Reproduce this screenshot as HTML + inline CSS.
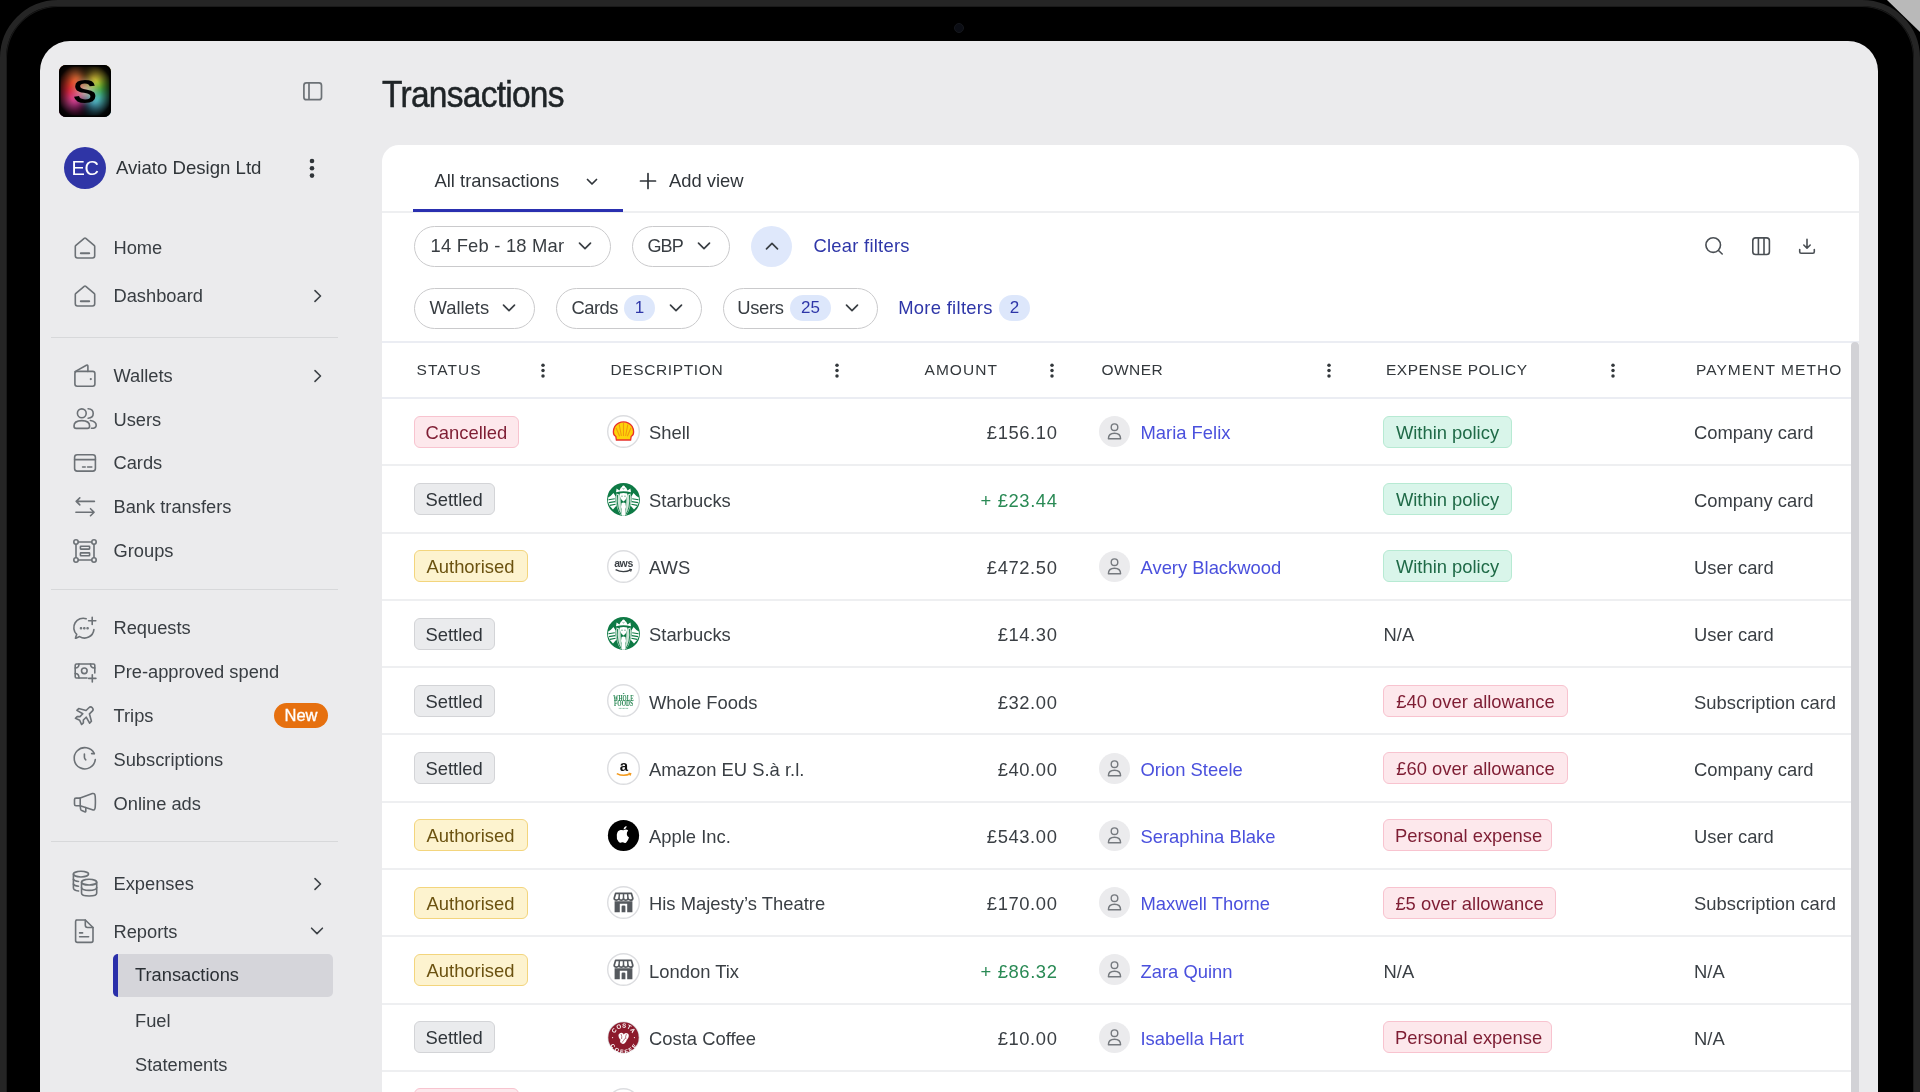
<!DOCTYPE html><html><head><meta charset="utf-8"><title>Transactions</title><style>
*{margin:0;padding:0;box-sizing:border-box}
html,body{width:1920px;height:1092px;overflow:hidden;background:#000}
body{font-family:"Liberation Sans",sans-serif;position:relative;color:#383d42}
.abs{position:absolute}
.t{position:absolute;white-space:nowrap;line-height:1}
svg{position:absolute;overflow:visible}
#rim{position:absolute;left:0;top:0;width:1920px;height:1300px;border-radius:58px;border:6px solid #252525;background:#000;box-shadow:inset 0 0 0 1px #1a1a1a}
#screen{position:absolute;left:40px;top:41px;width:1838px;height:1200px;border-radius:30px;background:#ebebed;overflow:hidden;will-change:transform}
.nav{position:absolute;left:113px;font-size:18.3px;color:#383d42;line-height:1}
.sep{position:absolute;left:51px;width:287px;height:1.5px;background:#d7d8da}
.card{position:absolute;left:382px;top:145px;width:1477px;height:1000px;background:#fff;border-radius:17px;overflow:hidden}
.pill{position:absolute;height:41px;border:1.7px solid #cacacc;border-radius:21px;background:#fff}
.cnt{position:absolute;height:26px;border-radius:13px;background:#dde7fb;color:#2e36a8;font-size:17px;text-align:center;line-height:26px}
.hd{position:absolute;font-size:15.5px;letter-spacing:1.05px;color:#33383c;line-height:1;white-space:nowrap}
.rowline{position:absolute;left:0;width:1470px;height:2px;background:#eeeff1}
.badge{position:absolute;height:32px;border-radius:6px;font-size:18.4px;line-height:30px;padding:1px 11px 0;white-space:nowrap;border:1.5px solid}
.b-red{background:#fde8ec;border-color:#f8c3cf;color:#7e1d33}
.b-gray{background:#eaebed;border-color:#d3d4d7;color:#30353a}
.b-yel{background:#fdf3cf;border-color:#f3d57d;color:#6b5210}
.b-grn{background:#d9f5ea;border-color:#b7ead3;color:#1f6a47}
.cell{position:absolute;font-size:18.4px;line-height:1;white-space:nowrap;color:#3a3f44}
.logo{position:absolute;width:32px;height:32px;border-radius:50%;border:1.5px solid #dedfe1;background:#fff;overflow:hidden}
.av{position:absolute;width:31px;height:31px;border-radius:50%;background:#ebebed}
.link{color:#4a50dd}
</style></head><body>
<div class="abs" style="left:1880px;top:0;width:40px;height:40px;background:#b9b9b9;clip-path:polygon(7px 0,40px 0,40px 32px)"></div>
<div id="rim"></div>
<div class="abs" style="left:954px;top:23px;width:10px;height:10px;border-radius:50%;background:#0b0d14;border:1px solid #15171c"></div>
<div id="screen">
<div class="abs" style="left:19px;top:24px;width:52px;height:52px;border-radius:7px;overflow:hidden;background:#000"><div class="abs" style="left:-4px;top:-4px;width:60px;height:60px;background:conic-gradient(from 0deg at 50% 50%, #000 0deg, #f5d040 40deg, #a8d030 62deg, #2f8a1a 78deg, #40b0a0 110deg, #60c8e0 135deg, #103848 170deg, #000 182deg, #7a1050 200deg, #e050a8 230deg, #c81830 270deg, #d84020 300deg, #f08040 330deg, #000 360deg);filter:blur(4px)"></div><div class="abs" style="left:0;top:0;width:52px;height:52px;background:radial-gradient(circle at 50% 50%, rgba(255,240,230,0.55) 0%, rgba(255,255,255,0.15) 28%, rgba(0,0,0,0) 42%, rgba(0,0,0,0.55) 62%, rgba(0,0,0,0.95) 78%, #000 90%)"></div><div class="t" style="left:0;top:10px;width:52px;text-align:center;font-size:33px;font-weight:700;color:#000;line-height:33px;transform:scaleX(1.08)">S</div><div class="abs" style="left:0;top:0;width:52px;height:52px;border-radius:7px;box-shadow:inset 0 0 0 1.5px #000"></div></div>
<svg style="left:263px;top:41px" width="20" height="19" viewBox="0 0 20 19"><rect x="0.9" y="0.9" width="17.6" height="16.8" rx="2.5" fill="none" stroke="#6c7176" stroke-width="1.7"/><line x1="6" y1="1" x2="6" y2="17.5" stroke="#6c7176" stroke-width="1.7"/></svg>
<div class="abs" style="left:24px;top:106px;width:42px;height:42px;border-radius:50%;background:#2f35a6;color:#fff;font-size:20px;text-align:center;line-height:42px;letter-spacing:-0.5px">EC</div>
<div class="t" style="left:76px;top:118px;font-size:18.6px;color:#2f3438">Aviato Design Ltd</div>
<svg style="left:269px;top:117px" width="6" height="21" viewBox="0 0 6 21"><circle cx="3" cy="3" r="2.3" fill="#2f3438"/><circle cx="3" cy="10.3" r="2.3" fill="#2f3438"/><circle cx="3" cy="17.6" r="2.3" fill="#2f3438"/></svg>
<svg style="left:32.8px;top:194.6px" width="24" height="24" viewBox="0 0 24 24" fill="none" stroke="#6c7176" stroke-width="1.60" stroke-linecap="round" stroke-linejoin="round"><path d="M2.3 10.6 Q2.3 9.9 2.9 9.4 L11.2 2.3 Q12 1.7 12.8 2.3 L21.1 9.4 Q21.7 9.9 21.7 10.6 V19.8 Q21.7 22 19.5 22 H4.5 Q2.3 22 2.3 19.8 Z"/><path d="M7.8 17.2 H16.2" stroke-width="2"/></svg>
<div class="nav" style="top:197.9px;left:73.5px">Home</div>
<svg style="left:32.8px;top:242.5px" width="24" height="24" viewBox="0 0 24 24" fill="none" stroke="#6c7176" stroke-width="1.60" stroke-linecap="round" stroke-linejoin="round"><path d="M2.3 10.6 Q2.3 9.9 2.9 9.4 L11.2 2.3 Q12 1.7 12.8 2.3 L21.1 9.4 Q21.7 9.9 21.7 10.6 V19.8 Q21.7 22 19.5 22 H4.5 Q2.3 22 2.3 19.8 Z"/><path d="M7.8 17.2 H16.2" stroke-width="2"/></svg>
<div class="nav" style="top:245.8px;left:73.5px">Dashboard</div>
<svg style="left:270px;top:246.5px" width="16" height="16" viewBox="0 0 16 16" fill="none" stroke="#3d4247" stroke-width="1.6" stroke-linecap="round" stroke-linejoin="round"><path d="M5 2.6 L10.5 8 L5 13.4"/></svg>
<svg style="left:33.099999999999994px;top:322.5px" width="24" height="24" viewBox="0 0 24 24" fill="none" stroke="#6c7176" stroke-width="1.60" stroke-linecap="round" stroke-linejoin="round"><path d="M1.9 9.6 Q1.9 7.4 4.1 7.4 H19.7 Q21.9 7.4 21.9 9.6 V20 Q21.9 22.2 19.7 22.2 H4.1 Q1.9 22.2 1.9 20 Z"/><path d="M2 7.6 L13.4 1.3 Q14.9 0.6 14.9 2.3 V7.4"/><circle cx="17.8" cy="15.1" r="1.1" fill="#6c7176" stroke="none"/></svg>
<div class="nav" style="top:325.8px;left:73.5px">Wallets</div>
<svg style="left:270px;top:326.5px" width="16" height="16" viewBox="0 0 16 16" fill="none" stroke="#3d4247" stroke-width="1.6" stroke-linecap="round" stroke-linejoin="round"><path d="M5 2.6 L10.5 8 L5 13.4"/></svg>
<svg style="left:32.7px;top:366.3px" width="24" height="24" viewBox="0 0 24 24" fill="none" stroke="#6c7176" stroke-width="1.60" stroke-linecap="round" stroke-linejoin="round"><circle cx="8.8" cy="6.3" r="4.4"/><path d="M1 19 Q1 13.6 8.8 13.6 Q16.6 13.6 16.6 19 Q16.6 21.4 14.4 21.4 H3.2 Q1 21.4 1 19 Z"/><path d="M15.1 1.8 Q20.2 2 20.2 6.5 Q20.2 11 15.1 11.2"/><path d="M17.4 13.5 Q23.2 14.6 23.2 18.2 Q23.2 21.3 18.4 21.3"/></svg>
<div class="nav" style="top:369.6px;left:73.5px">Users</div>
<svg style="left:32.5px;top:410.1px" width="24" height="24" viewBox="0 0 24 24" fill="none" stroke="#6c7176" stroke-width="1.60" stroke-linecap="round" stroke-linejoin="round"><rect x="1.6" y="3.7" width="20.8" height="16.4" rx="2.6"/><path d="M1.6 8.6 H22.4"/><path d="M9.6 16 H12.2 M14.6 16 H18.8"/></svg>
<div class="nav" style="top:413.4px;left:73.5px">Cards</div>
<svg style="left:32.599999999999994px;top:454.1px" width="24" height="24" viewBox="0 0 24 24" fill="none" stroke="#6c7176" stroke-width="1.60" stroke-linecap="round" stroke-linejoin="round"><path d="M21.4 6.4 H3.2 M6.8 2.9 L3.2 6.4 L6.8 9.9"/><path d="M2.9 17.2 H21.1 M17.5 13.7 L21.1 17.2 L17.5 20.7"/></svg>
<div class="nav" style="top:457.4px;left:73.5px">Bank transfers</div>
<svg style="left:32.7px;top:498.1px" width="24" height="24" viewBox="0 0 24 24" fill="none" stroke="#6c7176" stroke-width="1.60" stroke-linecap="round" stroke-linejoin="round"><rect x="3" y="3" width="18" height="18" rx="0.5"/><circle cx="3" cy="3" r="2.2" fill="#ebebed"/><circle cx="21" cy="3" r="2.2" fill="#ebebed"/><circle cx="3" cy="21" r="2.2" fill="#ebebed"/><circle cx="21" cy="21" r="2.2" fill="#ebebed"/><rect x="7.4" y="7.3" width="9.2" height="2.8" rx="0.5"/><rect x="7.4" y="13.9" width="9.2" height="2.8" rx="0.5"/></svg>
<div class="nav" style="top:501.4px;left:73.5px">Groups</div>
<svg style="left:32.900000000000006px;top:574.6px" width="24" height="24" viewBox="0 0 24 24" fill="none" stroke="#6c7176" stroke-width="1.60" stroke-linecap="round" stroke-linejoin="round"><path d="M20.9 13.6 A9.4 9.4 0 0 1 6.6 20.6 L2.9 22.2 Q2.2 22.4 2.5 21.7 L3.7 18.4 A9.4 9.4 0 0 1 13.2 2.7"/><path d="M19.2 1.2 V8.4 M15.6 4.8 H22.8"/><circle cx="8" cy="12.3" r="0.5" fill="#6c7176"/><circle cx="11.3" cy="12.3" r="0.5" fill="#6c7176"/><circle cx="14.6" cy="12.3" r="0.5" fill="#6c7176"/></svg>
<div class="nav" style="top:577.9px;left:73.5px">Requests</div>
<svg style="left:32.900000000000006px;top:618.4px" width="24" height="24" viewBox="0 0 24 24" fill="none" stroke="#6c7176" stroke-width="1.60" stroke-linecap="round" stroke-linejoin="round"><path d="M14 19 H3.5 Q2.2 19 2.2 17.7 V6.3 Q2.2 5 3.5 5 H20.5 Q21.8 5 21.8 6.3 V14"/><circle cx="11.3" cy="11.8" r="2.8"/><path d="M2.2 9 Q6 9 6 5 M17.5 5 Q17.5 9 21.8 9 M2.2 14.5 Q6 14.5 6 19"/><path d="M19.3 15.8 V23 M15.7 19.4 H22.9"/></svg>
<div class="nav" style="top:621.7px;left:73.5px">Pre-approved spend</div>
<svg style="left:32.900000000000006px;top:662.3px" width="24" height="24" viewBox="0 0 24 24" fill="none" stroke="#6c7176" stroke-width="1.60" stroke-linecap="round" stroke-linejoin="round"><path transform="rotate(-45 12 12) translate(0.3 0)" d="M15.6 9.6 H19.6 A2.4 2.4 0 0 1 19.6 14.4 H15.6 L11.8 21 H9.2 L11 14.4 H7 L5 16.4 H2.6 L4.2 12 L2.6 7.6 H5 L7 9.6 H11 L9.2 3 H11.8 Z"/></svg>
<div class="nav" style="top:665.6px;left:73.5px">Trips</div>
<svg style="left:32.900000000000006px;top:706.3px" width="24" height="24" viewBox="0 0 24 24" fill="none" stroke="#6c7176" stroke-width="1.60" stroke-linecap="round" stroke-linejoin="round"><path d="M21.3 6.6 A10.6 10.6 0 1 0 22.3 12.6"/><path d="M21.3 6.6 H18.6"/><path d="M11.4 7 V10.2 Q11.4 11.8 12.8 12.8"/></svg>
<div class="nav" style="top:709.6px;left:73.5px">Subscriptions</div>
<svg style="left:32.900000000000006px;top:750.3px" width="24" height="24" viewBox="0 0 24 24" fill="none" stroke="#6c7176" stroke-width="1.60" stroke-linecap="round" stroke-linejoin="round"><path d="M3 7.1 H7.2 V14.7 H3 Q1.5 14.7 1.5 13.2 V8.6 Q1.5 7.1 3 7.1 Z"/><path d="M7.2 7.1 L19.4 2.6 Q21.9 1.8 22.2 5.2 Q22.6 10.7 22.2 16.2 Q21.9 19.6 19.4 18.8 L7.2 14.7"/><path d="M7.2 14.7 L7.6 18.2 Q7.8 19.2 8.8 19.6 L11.6 20.8 Q12.8 21.2 12.8 19.9 V16.6"/></svg>
<div class="nav" style="top:753.6px;left:73.5px">Online ads</div>
<svg style="left:32.0px;top:828.7px" width="26" height="26" viewBox="0 0 24 24" fill="none" stroke="#6c7176" stroke-width="1.48" stroke-linecap="round" stroke-linejoin="round"><ellipse cx="8.3" cy="3.8" rx="7" ry="2.6"/><path d="M1.3 3.8 V16.5 Q1.3 18.5 6 19.4"/><path d="M1.3 8.6 Q2 10 6 10.6 M1.3 13 Q2 14.5 6 15"/><ellipse cx="15.8" cy="11.2" rx="7" ry="2.6"/><path d="M8.8 11.2 V21.5 Q8.8 24 15.8 24 Q22.8 24 22.8 21.5 V11.2"/><path d="M8.8 16.2 Q9.2 18.8 15.8 18.8 Q22.4 18.8 22.8 16.2"/></svg>
<div class="nav" style="top:833.9px;left:73.5px">Expenses</div>
<svg style="left:270px;top:834.6px" width="16" height="16" viewBox="0 0 16 16" fill="none" stroke="#3d4247" stroke-width="1.6" stroke-linecap="round" stroke-linejoin="round"><path d="M5 2.6 L10.5 8 L5 13.4"/></svg>
<svg style="left:32.400000000000006px;top:878.2px" width="24" height="24" viewBox="0 0 24 24" fill="none" stroke="#6c7176" stroke-width="1.60" stroke-linecap="round" stroke-linejoin="round"><path d="M4.2 1 H13.3 L21 8.5 V21.5 Q21 23.4 19.2 23.4 H5.5 Q3.6 23.4 3.6 21.5 V2.6 Q3.6 1 5.2 1 Z"/><path d="M13.3 1 V6.3 Q13.3 8.5 15.5 8.5 H21"/><path d="M7.6 13.9 H10.6 M7.6 17.8 H16.6"/></svg>
<div class="nav" style="top:881.5px;left:73.5px">Reports</div>
<svg style="left:269px;top:882.2px" width="16" height="16" viewBox="0 0 16 16" fill="none" stroke="#3d4247" stroke-width="1.6" stroke-linecap="round" stroke-linejoin="round"><path d="M2.6 5.2 L8 10.6 L13.4 5.2"/></svg>
<div class="sep" style="top:295.6px;left:11px"></div>
<div class="sep" style="top:547.8px;left:11px"></div>
<div class="sep" style="top:799.5px;left:11px"></div>
<div class="abs" style="left:234px;top:662px;width:54px;height:25px;border-radius:13px;background:#e6700f;color:#fff;font-size:16.5px;line-height:25px;text-align:center;-webkit-text-stroke:0.35px #fff">New</div>
<div class="abs" style="left:73px;top:912.5px;width:220px;height:43.5px;border-radius:5px;background:#d5d5da;overflow:hidden"><div class="abs" style="left:0;top:0;width:5px;height:44px;background:#2a2faa"></div></div>
<div class="nav" style="top:925.3px;left:95px;color:#2b3035">Transactions</div>
<div class="nav" style="top:970.6px;left:95px;color:#383d42">Fuel</div>
<div class="nav" style="top:1015.0px;left:95px;color:#383d42">Statements</div>
<div class="t" style="left:342px;top:34.7px;font-size:37px;font-weight:400;color:#1f2427;letter-spacing:-0.8px;-webkit-text-stroke:0.55px #1f2427;transform:scaleX(0.905);transform-origin:0 0">Transactions</div>
<div class="card" style="left:342px;top:104px">
<div class="t" style="left:52.5px;top:27px;font-size:18.4px;color:#30353a">All transactions</div>
<svg style="left:204px;top:32px" width="12" height="10" viewBox="0 0 12 10" fill="none" stroke="#30353a" stroke-width="1.7" stroke-linecap="round" stroke-linejoin="round"><path d="M1.5 2.5 L6 7 L10.5 2.5"/></svg>
<svg style="left:257px;top:27px" width="18" height="18" viewBox="0 0 18 18" fill="none" stroke="#30353a" stroke-width="1.7" stroke-linecap="round"><path d="M9 1.5 V16.5 M1.5 9 H16.5"/></svg>
<div class="t" style="left:287px;top:27px;font-size:18.4px;color:#30353a">Add view</div>
<div class="abs" style="left:0;top:66px;width:1477px;height:2px;background:#eeeff1"></div>
<div class="abs" style="left:31px;top:64px;width:210px;height:3px;background:#2a30b0"></div>
<div class="pill" style="left:31.5px;top:80.5px;width:197.0px;height:41.0px"></div>
<div class="t" style="left:48.5px;top:91.80000000000001px;font-size:18.4px;color:#383d42;letter-spacing:0.2px">14 Feb - 18 Mar</div>
<svg style="left:196px;top:96px" width="14" height="10" viewBox="0 0 14 10" fill="none" stroke="#3a3f44" stroke-width="1.7" stroke-linecap="round" stroke-linejoin="round"><path d="M1.5 2.2 L7 7.6 L12.5 2.2"/></svg>
<div class="pill" style="left:250px;top:80.5px;width:98px;height:41.0px"></div>
<div class="t" style="left:265.5px;top:91.80000000000001px;font-size:18px;color:#383d42;letter-spacing:-0.9px">GBP</div>
<svg style="left:315px;top:96px" width="14" height="10" viewBox="0 0 14 10" fill="none" stroke="#3a3f44" stroke-width="1.7" stroke-linecap="round" stroke-linejoin="round"><path d="M1.5 2.2 L7 7.6 L12.5 2.2"/></svg>
<div class="abs" style="left:369px;top:80.5px;width:41px;height:41px;border-radius:50%;background:#dfe8fb"></div>
<svg style="left:382.5px;top:96px" width="14" height="10" viewBox="0 0 14 10" fill="none" stroke="#3a3f44" stroke-width="1.7" stroke-linecap="round" stroke-linejoin="round"><path d="M1.5 7.8 L7 2.4 L12.5 7.8"/></svg>
<div class="t" style="left:431.5px;top:91.80000000000001px;font-size:18.4px;color:#2e36a8;letter-spacing:0.25px">Clear filters</div>
<svg style="left:1320px;top:89px" width="24" height="24" viewBox="0 0 24 24" fill="none" stroke="#4a4f54" stroke-width="1.6" stroke-linecap="round"><circle cx="11.2" cy="11.1" r="7.3"/><path d="M16.5 16.5 L20.2 20"/></svg>
<svg style="left:1367px;top:89px" width="24" height="24" viewBox="0 0 24 24" fill="none" stroke="#4a4f54" stroke-width="1.6"><rect x="3.8" y="3.9" width="16.6" height="16.6" rx="2.8"/><path d="M9.4 3.9 V20.5 M15 3.9 V20.5"/></svg>
<svg style="left:1413px;top:89px" width="24" height="24" viewBox="0 0 24 24" fill="none" stroke="#4a4f54" stroke-width="1.6" stroke-linecap="round" stroke-linejoin="round"><path d="M12 5.2 V14 M8.8 11 L12 14.2 L15.2 11"/><path d="M4.7 15.6 V17.8 Q4.7 19.2 6.1 19.2 H17.9 Q19.3 19.2 19.3 17.8 V15.6"/></svg>
<div class="pill" style="left:31.5px;top:142.5px;width:121.5px;height:41.0px"></div>
<div class="t" style="left:47.5px;top:153.8px;font-size:18.4px;color:#383d42;letter-spacing:0px">Wallets</div>
<svg style="left:120px;top:158px" width="14" height="10" viewBox="0 0 14 10" fill="none" stroke="#3a3f44" stroke-width="1.7" stroke-linecap="round" stroke-linejoin="round"><path d="M1.5 2.2 L7 7.6 L12.5 2.2"/></svg>
<div class="pill" style="left:173.5px;top:142.5px;width:146.0px;height:41.0px"></div>
<div class="t" style="left:189.5px;top:153.8px;font-size:18.4px;color:#383d42;letter-spacing:-0.55px">Cards</div>
<svg style="left:287px;top:158px" width="14" height="10" viewBox="0 0 14 10" fill="none" stroke="#3a3f44" stroke-width="1.7" stroke-linecap="round" stroke-linejoin="round"><path d="M1.5 2.2 L7 7.6 L12.5 2.2"/></svg>
<div class="cnt" style="left:242px;top:150px;width:31px">1</div>
<div class="pill" style="left:340.5px;top:142.5px;width:155.0px;height:41.0px"></div>
<div class="t" style="left:355.20000000000005px;top:153.8px;font-size:18.4px;color:#383d42;letter-spacing:-0.3px">Users</div>
<svg style="left:463px;top:158px" width="14" height="10" viewBox="0 0 14 10" fill="none" stroke="#3a3f44" stroke-width="1.7" stroke-linecap="round" stroke-linejoin="round"><path d="M1.5 2.2 L7 7.6 L12.5 2.2"/></svg>
<div class="cnt" style="left:408px;top:150px;width:41px">25</div>
<div class="t" style="left:516.2px;top:153.8px;font-size:18.4px;color:#2e36a8;letter-spacing:0.3px">More filters</div>
<div class="cnt" style="left:617px;top:150px;width:31px">2</div>
<div class="abs" style="left:0;top:196px;width:1477px;height:2px;background:#ebedf3"></div>
<div class="abs" style="left:0;top:252px;width:1470px;height:2px;background:#ebedf3"></div>
<div class="hd" style="left:34.5px;top:217.2px;letter-spacing:1.05px">STATUS</div>
<svg style="left:157.5px;top:217.5px" width="6" height="16" viewBox="0 0 6 16"><circle cx="3" cy="2.2" r="1.75" fill="#33383c"/><circle cx="3" cy="7.6" r="1.75" fill="#33383c"/><circle cx="3" cy="13" r="1.75" fill="#33383c"/></svg>
<div class="hd" style="left:228.5px;top:217.2px;letter-spacing:0.62px">DESCRIPTION</div>
<svg style="left:452px;top:217.5px" width="6" height="16" viewBox="0 0 6 16"><circle cx="3" cy="2.2" r="1.75" fill="#33383c"/><circle cx="3" cy="7.6" r="1.75" fill="#33383c"/><circle cx="3" cy="13" r="1.75" fill="#33383c"/></svg>
<div class="hd" style="left:542.5px;top:217.2px;letter-spacing:1.05px">AMOUNT</div>
<svg style="left:666.7px;top:217.5px" width="6" height="16" viewBox="0 0 6 16"><circle cx="3" cy="2.2" r="1.75" fill="#33383c"/><circle cx="3" cy="7.6" r="1.75" fill="#33383c"/><circle cx="3" cy="13" r="1.75" fill="#33383c"/></svg>
<div class="hd" style="left:719.5px;top:217.2px;letter-spacing:0.45px">OWNER</div>
<svg style="left:943.7px;top:217.5px" width="6" height="16" viewBox="0 0 6 16"><circle cx="3" cy="2.2" r="1.75" fill="#33383c"/><circle cx="3" cy="7.6" r="1.75" fill="#33383c"/><circle cx="3" cy="13" r="1.75" fill="#33383c"/></svg>
<div class="hd" style="left:1004px;top:217.2px;letter-spacing:0.52px">EXPENSE POLICY</div>
<svg style="left:1228px;top:217.5px" width="6" height="16" viewBox="0 0 6 16"><circle cx="3" cy="2.2" r="1.75" fill="#33383c"/><circle cx="3" cy="7.6" r="1.75" fill="#33383c"/><circle cx="3" cy="13" r="1.75" fill="#33383c"/></svg>
<div class="abs" style="left:1314px;top:210px;width:146px;height:30px;overflow:hidden"><div class="hd" style="left:0;top:7.2px">PAYMENT METHOD</div></div>
<div class="rowline" style="top:319px"></div>
<div class="badge b-red" style="left:31.5px;top:270.7px;width:105px;text-align:center">Cancelled</div>
<svg style="left:224.5px;top:270.2px" width="33" height="33" viewBox="0 0 33 33"><circle cx="16.5" cy="16.5" r="15.8" fill="#fff" stroke="#dcdde0" stroke-width="1.4"/><path d="M8.8 21.5 Q6.2 20.2 6.4 16.6 Q6.8 10.4 11.6 8.1 Q16.5 5.8 21.4 8.1 Q26.2 10.4 26.6 16.6 Q26.8 20.2 24.2 21.5 L23.6 25 H9.4 Z" fill="#fdd20a" stroke="#e8312a" stroke-width="1.3"/><path d="M16.5 8 V21 M12.2 9.5 L14.4 21 M20.8 9.5 L18.6 21 M9 12.8 L12.6 21.2 M24 12.8 L20.4 21.2" stroke="#f29a0d" stroke-width="1.1" fill="none"/></svg>
<div class="cell" style="left:267px;top:279.4px">Shell</div>
<div class="cell" style="left:318px;width:357.5px;text-align:right;top:279.4px;color:#3a3f44;letter-spacing:0.6px">£156.10</div>
<svg style="left:716.5px;top:271.2px" width="31" height="31" viewBox="0 0 31 31"><circle cx="15.5" cy="15.5" r="15.5" fill="#ebebed"/><circle cx="15.5" cy="11.2" r="3.3" fill="none" stroke="#75797e" stroke-width="1.4"/><path d="M9.4 22.8 Q9.4 17.2 15.5 17.2 Q21.6 17.2 21.6 22.8 Z" fill="none" stroke="#75797e" stroke-width="1.4" stroke-linejoin="round"/></svg>
<div class="cell link" style="left:758.5px;top:279.4px">Maria Felix</div>
<div class="badge b-grn" style="left:1001px;top:270.7px;width:129px;text-align:center">Within policy</div>
<div class="cell" style="left:1312px;top:279.4px">Company card</div>
<div class="rowline" style="top:387px"></div>
<div class="badge b-gray" style="left:31.5px;top:338.0px;width:81px;text-align:center">Settled</div>
<svg style="left:224.5px;top:337.5px" width="33" height="33" viewBox="0 0 33 33"><circle cx="16.5" cy="16.5" r="16.4" fill="#0e7a45"/><path d="M1.2 14.5 Q4 13 6.5 10 L8.6 13.5 Q7.8 18 9.5 22.5 L6 26.5 Q2.5 24 1 19 Z" fill="#fff"/><path d="M31.8 14.5 Q29 13 26.5 10 L24.4 13.5 Q25.2 18 23.5 22.5 L27 26.5 Q30.5 24 32 19 Z" fill="#fff"/><path d="M1.5 16.8 L7.8 15.8 M1.8 19.6 L8.2 18.6 M2.8 22.4 L8.6 21.2 M31.5 16.8 L25.2 15.8 M31.2 19.6 L24.8 18.6 M30.2 22.4 L24.4 21.2" stroke="#0e7a45" stroke-width="1.1"/><path d="M9.5 10.5 Q8 17 9.6 23 Q11 28.5 13.6 31.8 L15 31.8 Q13.5 27 13.8 21 Q14 16 12.6 11.5 Z" fill="#cfe6d8"/><path d="M23.5 10.5 Q25 17 23.4 23 Q22 28.5 19.4 31.8 L18 31.8 Q19.5 27 19.2 21 Q19 16 20.4 11.5 Z" fill="#cfe6d8"/><path d="M10.6 12 Q9.6 18 11 24 Q12 28 13.8 31 M22.4 12 Q23.4 18 22 24 Q21 28 19.2 31" stroke="#0e7a45" stroke-width="0.9" fill="none"/><path d="M9 9.2 L9.6 5.4 L12.4 7.4 L14.2 4 L16.5 6.4 L18.8 4 L20.6 7.4 L23.4 5.4 L24 9.2 Q16.5 7.4 9 9.2 Z" fill="#fff"/><circle cx="16.5" cy="4.2" r="1.6" fill="#fff"/><path d="M12.8 10.6 Q16.5 9.6 20.2 10.6 Q20.6 16 16.5 18.6 Q12.4 16 12.8 10.6 Z" fill="#fff"/><path d="M14.4 13.2 H15.6 M17.4 13.2 H18.6" stroke="#0e7a45" stroke-width="0.8"/><path d="M14.6 20 Q16.5 19 18.4 20 L19 24 Q18.2 26 18.6 28 L18 32.8 H15 L14.4 28 Q14.8 26 14 24 Z" fill="#fff"/></svg>
<div class="cell" style="left:267px;top:346.7px">Starbucks</div>
<div class="cell" style="left:318px;width:357.5px;text-align:right;top:346.7px;color:#2a8a55;letter-spacing:0.6px">+ £23.44</div>
<div class="badge b-grn" style="left:1001px;top:338.0px;width:129px;text-align:center">Within policy</div>
<div class="cell" style="left:1312px;top:346.7px">Company card</div>
<div class="rowline" style="top:454px"></div>
<div class="badge b-yel" style="left:31.5px;top:405.3px;width:114px;text-align:center">Authorised</div>
<svg style="left:224.5px;top:404.8px" width="33" height="33" viewBox="0 0 33 33"><circle cx="16.5" cy="16.5" r="15.8" fill="#fff" stroke="#dcdde0" stroke-width="1.4"/><text x="16.5" y="17.3" text-anchor="middle" font-family="Liberation Sans" font-size="10.5" font-weight="700" fill="#3a3f44" letter-spacing="-0.4">aws</text><path d="M8.6 19.6 Q16 23.5 23.8 19.8" stroke="#3a3f44" stroke-width="1.3" fill="none"/><path d="M22.2 19 L24.4 19.6 L23.6 21.6" stroke="#3a3f44" stroke-width="1.1" fill="none"/></svg>
<div class="cell" style="left:267px;top:414.0px">AWS</div>
<div class="cell" style="left:318px;width:357.5px;text-align:right;top:414.0px;color:#3a3f44;letter-spacing:0.6px">£472.50</div>
<svg style="left:716.5px;top:405.8px" width="31" height="31" viewBox="0 0 31 31"><circle cx="15.5" cy="15.5" r="15.5" fill="#ebebed"/><circle cx="15.5" cy="11.2" r="3.3" fill="none" stroke="#75797e" stroke-width="1.4"/><path d="M9.4 22.8 Q9.4 17.2 15.5 17.2 Q21.6 17.2 21.6 22.8 Z" fill="none" stroke="#75797e" stroke-width="1.4" stroke-linejoin="round"/></svg>
<div class="cell link" style="left:758.5px;top:414.0px">Avery Blackwood</div>
<div class="badge b-grn" style="left:1001px;top:405.3px;width:129px;text-align:center">Within policy</div>
<div class="cell" style="left:1312px;top:414.0px">User card</div>
<div class="rowline" style="top:521px"></div>
<div class="badge b-gray" style="left:31.5px;top:472.5px;width:81px;text-align:center">Settled</div>
<svg style="left:224.5px;top:472.0px" width="33" height="33" viewBox="0 0 33 33"><circle cx="16.5" cy="16.5" r="16.4" fill="#0e7a45"/><path d="M1.2 14.5 Q4 13 6.5 10 L8.6 13.5 Q7.8 18 9.5 22.5 L6 26.5 Q2.5 24 1 19 Z" fill="#fff"/><path d="M31.8 14.5 Q29 13 26.5 10 L24.4 13.5 Q25.2 18 23.5 22.5 L27 26.5 Q30.5 24 32 19 Z" fill="#fff"/><path d="M1.5 16.8 L7.8 15.8 M1.8 19.6 L8.2 18.6 M2.8 22.4 L8.6 21.2 M31.5 16.8 L25.2 15.8 M31.2 19.6 L24.8 18.6 M30.2 22.4 L24.4 21.2" stroke="#0e7a45" stroke-width="1.1"/><path d="M9.5 10.5 Q8 17 9.6 23 Q11 28.5 13.6 31.8 L15 31.8 Q13.5 27 13.8 21 Q14 16 12.6 11.5 Z" fill="#cfe6d8"/><path d="M23.5 10.5 Q25 17 23.4 23 Q22 28.5 19.4 31.8 L18 31.8 Q19.5 27 19.2 21 Q19 16 20.4 11.5 Z" fill="#cfe6d8"/><path d="M10.6 12 Q9.6 18 11 24 Q12 28 13.8 31 M22.4 12 Q23.4 18 22 24 Q21 28 19.2 31" stroke="#0e7a45" stroke-width="0.9" fill="none"/><path d="M9 9.2 L9.6 5.4 L12.4 7.4 L14.2 4 L16.5 6.4 L18.8 4 L20.6 7.4 L23.4 5.4 L24 9.2 Q16.5 7.4 9 9.2 Z" fill="#fff"/><circle cx="16.5" cy="4.2" r="1.6" fill="#fff"/><path d="M12.8 10.6 Q16.5 9.6 20.2 10.6 Q20.6 16 16.5 18.6 Q12.4 16 12.8 10.6 Z" fill="#fff"/><path d="M14.4 13.2 H15.6 M17.4 13.2 H18.6" stroke="#0e7a45" stroke-width="0.8"/><path d="M14.6 20 Q16.5 19 18.4 20 L19 24 Q18.2 26 18.6 28 L18 32.8 H15 L14.4 28 Q14.8 26 14 24 Z" fill="#fff"/></svg>
<div class="cell" style="left:267px;top:481.2px">Starbucks</div>
<div class="cell" style="left:318px;width:357.5px;text-align:right;top:481.2px;color:#3a3f44;letter-spacing:0.6px">£14.30</div>
<div class="cell" style="left:1001.5px;top:481.2px">N/A</div>
<div class="cell" style="left:1312px;top:481.2px">User card</div>
<div class="rowline" style="top:588px"></div>
<div class="badge b-gray" style="left:31.5px;top:539.8px;width:81px;text-align:center">Settled</div>
<svg style="left:224.5px;top:539.3px" width="33" height="33" viewBox="0 0 33 33"><circle cx="16.5" cy="16.5" r="15.8" fill="#fff" stroke="#dcdde0" stroke-width="1.4"/><path d="M15.6 9.4 Q16.8 8.6 17.6 10 Q16.4 10.2 15.6 9.4 Z" fill="#2a8a5a"/><text x="16.5" y="16.6" text-anchor="middle" font-family="Liberation Serif" font-size="7.6" font-weight="700" fill="#23844f" textLength="20.5" lengthAdjust="spacingAndGlyphs">WHOLE</text><text x="16.5" y="22.4" text-anchor="middle" font-family="Liberation Serif" font-size="7.6" font-weight="700" fill="#23844f" textLength="19" lengthAdjust="spacingAndGlyphs">FOODS</text><path d="M11.8 24.4 H21.2" stroke="#3f9a6a" stroke-width="0.7" stroke-dasharray="0.9 0.5"/></svg>
<div class="cell" style="left:267px;top:548.5px">Whole Foods</div>
<div class="cell" style="left:318px;width:357.5px;text-align:right;top:548.5px;color:#3a3f44;letter-spacing:0.6px">£32.00</div>
<div class="badge b-red" style="left:1001px;top:539.8px;width:185px;text-align:center">£40 over allowance</div>
<div class="cell" style="left:1312px;top:548.5px">Subscription card</div>
<div class="rowline" style="top:656px"></div>
<div class="badge b-gray" style="left:31.5px;top:607.1px;width:81px;text-align:center">Settled</div>
<svg style="left:224.5px;top:606.6px" width="33" height="33" viewBox="0 0 33 33"><circle cx="16.5" cy="16.5" r="15.8" fill="#fff" stroke="#dcdde0" stroke-width="1.4"/><text x="16.8" y="19.2" text-anchor="middle" font-family="Liberation Sans" font-size="15" font-weight="700" fill="#111">a</text><path d="M9.8 21.6 Q16.5 25 23.4 21.8" stroke="#f39a1d" stroke-width="1.5" fill="none"/><path d="M21.6 21 L23.8 21.6 L23.1 23.6" stroke="#f39a1d" stroke-width="1.2" fill="none"/></svg>
<div class="cell" style="left:267px;top:615.8px">Amazon EU S.à r.l.</div>
<div class="cell" style="left:318px;width:357.5px;text-align:right;top:615.8px;color:#3a3f44;letter-spacing:0.6px">£40.00</div>
<svg style="left:716.5px;top:607.6px" width="31" height="31" viewBox="0 0 31 31"><circle cx="15.5" cy="15.5" r="15.5" fill="#ebebed"/><circle cx="15.5" cy="11.2" r="3.3" fill="none" stroke="#75797e" stroke-width="1.4"/><path d="M9.4 22.8 Q9.4 17.2 15.5 17.2 Q21.6 17.2 21.6 22.8 Z" fill="none" stroke="#75797e" stroke-width="1.4" stroke-linejoin="round"/></svg>
<div class="cell link" style="left:758.5px;top:615.8px">Orion Steele</div>
<div class="badge b-red" style="left:1001px;top:607.1px;width:185px;text-align:center">£60 over allowance</div>
<div class="cell" style="left:1312px;top:615.8px">Company card</div>
<div class="rowline" style="top:723px"></div>
<div class="badge b-yel" style="left:31.5px;top:674.4px;width:114px;text-align:center">Authorised</div>
<svg style="left:224.5px;top:673.9px" width="33" height="33" viewBox="0 0 33 33"><circle cx="16.5" cy="16.5" r="15.6" fill="#000"/><path d="M16.6 11.3 Q19 9.8 21.2 11.4 Q19.6 12.8 19.8 15.2 Q20 17.6 22 18.6 Q21 22 19.2 23.4 Q18 24.3 16.6 23.6 Q15.5 23.1 14.2 23.6 Q12.8 24.2 11.6 22.8 Q9.2 19.8 9.8 15.8 Q10.4 11.4 13.6 11.1 Q15 11 16.6 11.3 Z" fill="#fff"/><path d="M16.6 10.4 Q16.6 7.6 19.6 7 Q19.6 9.9 16.6 10.4 Z" fill="#fff"/></svg>
<div class="cell" style="left:267px;top:683.1px">Apple Inc.</div>
<div class="cell" style="left:318px;width:357.5px;text-align:right;top:683.1px;color:#3a3f44;letter-spacing:0.6px">£543.00</div>
<svg style="left:716.5px;top:674.9px" width="31" height="31" viewBox="0 0 31 31"><circle cx="15.5" cy="15.5" r="15.5" fill="#ebebed"/><circle cx="15.5" cy="11.2" r="3.3" fill="none" stroke="#75797e" stroke-width="1.4"/><path d="M9.4 22.8 Q9.4 17.2 15.5 17.2 Q21.6 17.2 21.6 22.8 Z" fill="none" stroke="#75797e" stroke-width="1.4" stroke-linejoin="round"/></svg>
<div class="cell link" style="left:758.5px;top:683.1px">Seraphina Blake</div>
<div class="badge b-red" style="left:1001px;top:674.4px;width:169px;text-align:center">Personal expense</div>
<div class="cell" style="left:1312px;top:683.1px">User card</div>
<div class="rowline" style="top:790px"></div>
<div class="badge b-yel" style="left:31.5px;top:741.6px;width:114px;text-align:center">Authorised</div>
<svg style="left:224.5px;top:741.1px" width="33" height="33" viewBox="0 0 33 33"><circle cx="16.5" cy="16.5" r="15.8" fill="#fff" stroke="#dcdde0" stroke-width="1.4"/><path d="M8.6 7.4 H24.4 L25.8 12.2 Q25.8 14.2 23.5 14.2 Q21.4 14.2 21 12.4 Q20.5 14.2 18.75 14.2 Q17 14.2 16.5 12.4 Q16 14.2 14.25 14.2 Q12.5 14.2 12 12.4 Q11.6 14.2 9.5 14.2 Q7.2 14.2 7.2 12.2 Z" fill="#fff" stroke="#55595e" stroke-width="1.7" stroke-linejoin="round"/><path d="M12.4 7.6 L12 12.4 M16.5 7.6 V12.4 M20.6 7.6 L21 12.4" stroke="#55595e" stroke-width="1.5"/><path d="M7.6 15.2 H25.4 V26.2 H7.6 Z M12.8 17.8 V26.2 H20.2 V17.8 Z" fill="#55595e" fill-rule="evenodd"/><path d="M14.6 20.8 Q14.6 19.6 15.8 19.6 H17.2 Q18.4 19.6 18.4 20.8 V26.2 H14.6 Z" fill="#55595e"/></svg>
<div class="cell" style="left:267px;top:750.3px">His Majesty’s Theatre</div>
<div class="cell" style="left:318px;width:357.5px;text-align:right;top:750.3px;color:#3a3f44;letter-spacing:0.6px">£170.00</div>
<svg style="left:716.5px;top:742.1px" width="31" height="31" viewBox="0 0 31 31"><circle cx="15.5" cy="15.5" r="15.5" fill="#ebebed"/><circle cx="15.5" cy="11.2" r="3.3" fill="none" stroke="#75797e" stroke-width="1.4"/><path d="M9.4 22.8 Q9.4 17.2 15.5 17.2 Q21.6 17.2 21.6 22.8 Z" fill="none" stroke="#75797e" stroke-width="1.4" stroke-linejoin="round"/></svg>
<div class="cell link" style="left:758.5px;top:750.3px">Maxwell Thorne</div>
<div class="badge b-red" style="left:1001px;top:741.6px;width:173px;text-align:center">£5 over allowance</div>
<div class="cell" style="left:1312px;top:750.3px">Subscription card</div>
<div class="rowline" style="top:858px"></div>
<div class="badge b-yel" style="left:31.5px;top:808.9px;width:114px;text-align:center">Authorised</div>
<svg style="left:224.5px;top:808.4px" width="33" height="33" viewBox="0 0 33 33"><circle cx="16.5" cy="16.5" r="15.8" fill="#fff" stroke="#dcdde0" stroke-width="1.4"/><path d="M8.6 7.4 H24.4 L25.8 12.2 Q25.8 14.2 23.5 14.2 Q21.4 14.2 21 12.4 Q20.5 14.2 18.75 14.2 Q17 14.2 16.5 12.4 Q16 14.2 14.25 14.2 Q12.5 14.2 12 12.4 Q11.6 14.2 9.5 14.2 Q7.2 14.2 7.2 12.2 Z" fill="#fff" stroke="#55595e" stroke-width="1.7" stroke-linejoin="round"/><path d="M12.4 7.6 L12 12.4 M16.5 7.6 V12.4 M20.6 7.6 L21 12.4" stroke="#55595e" stroke-width="1.5"/><path d="M7.6 15.2 H25.4 V26.2 H7.6 Z M12.8 17.8 V26.2 H20.2 V17.8 Z" fill="#55595e" fill-rule="evenodd"/><path d="M14.6 20.8 Q14.6 19.6 15.8 19.6 H17.2 Q18.4 19.6 18.4 20.8 V26.2 H14.6 Z" fill="#55595e"/></svg>
<div class="cell" style="left:267px;top:817.6px">London Tix</div>
<div class="cell" style="left:318px;width:357.5px;text-align:right;top:817.6px;color:#2a8a55;letter-spacing:0.6px">+ £86.32</div>
<svg style="left:716.5px;top:809.4px" width="31" height="31" viewBox="0 0 31 31"><circle cx="15.5" cy="15.5" r="15.5" fill="#ebebed"/><circle cx="15.5" cy="11.2" r="3.3" fill="none" stroke="#75797e" stroke-width="1.4"/><path d="M9.4 22.8 Q9.4 17.2 15.5 17.2 Q21.6 17.2 21.6 22.8 Z" fill="none" stroke="#75797e" stroke-width="1.4" stroke-linejoin="round"/></svg>
<div class="cell link" style="left:758.5px;top:817.6px">Zara Quinn</div>
<div class="cell" style="left:1001.5px;top:817.6px">N/A</div>
<div class="cell" style="left:1312px;top:817.6px">N/A</div>
<div class="rowline" style="top:925px"></div>
<div class="badge b-gray" style="left:31.5px;top:876.2px;width:81px;text-align:center">Settled</div>
<svg style="left:224.5px;top:875.7px" width="33" height="33" viewBox="0 0 33 33"><defs><path id="cst" d="M7.2 16 A9.3 9.3 0 0 1 25.8 16"/><path id="csb" d="M6 17.5 A10.5 10.5 0 0 0 27 17.5"/></defs><circle cx="16.5" cy="16.5" r="16" fill="#d9dadd"/><circle cx="16.5" cy="16.5" r="15.2" fill="#8c1a2c"/><text font-family="Liberation Sans" font-size="6" font-weight="700" fill="#fff" letter-spacing="0.3"><textPath href="#cst" startOffset="50%" text-anchor="middle">COSTA</textPath></text><text font-family="Liberation Sans" font-size="5.6" font-weight="700" fill="#fff" letter-spacing="0.2" dy="4.6"><textPath href="#csb" startOffset="50%" text-anchor="middle">COFFEE</textPath></text><ellipse cx="14.6" cy="15.4" rx="2.9" ry="3.6" fill="#fff" transform="rotate(-20 14.6 15.4)"/><ellipse cx="18.8" cy="15.6" rx="2.8" ry="3.5" fill="#fff" transform="rotate(20 18.8 15.6)"/><ellipse cx="16.4" cy="19.4" rx="2.9" ry="3.6" fill="#fff" transform="rotate(35 16.4 19.4)"/><path d="M14 13 Q15.2 15.4 14.6 18 M19.4 13.2 Q18.2 15.6 18.8 18 M15 21.6 Q16.8 19.4 18 17.4" stroke="#8c1a2c" stroke-width="0.6" fill="none"/><circle cx="5.6" cy="16.6" r="0.6" fill="#fff"/><circle cx="27.4" cy="16.6" r="0.6" fill="#fff"/></svg>
<div class="cell" style="left:267px;top:884.9px">Costa Coffee</div>
<div class="cell" style="left:318px;width:357.5px;text-align:right;top:884.9px;color:#3a3f44;letter-spacing:0.6px">£10.00</div>
<svg style="left:716.5px;top:876.7px" width="31" height="31" viewBox="0 0 31 31"><circle cx="15.5" cy="15.5" r="15.5" fill="#ebebed"/><circle cx="15.5" cy="11.2" r="3.3" fill="none" stroke="#75797e" stroke-width="1.4"/><path d="M9.4 22.8 Q9.4 17.2 15.5 17.2 Q21.6 17.2 21.6 22.8 Z" fill="none" stroke="#75797e" stroke-width="1.4" stroke-linejoin="round"/></svg>
<div class="cell link" style="left:758.5px;top:884.9px">Isabella Hart</div>
<div class="badge b-red" style="left:1001px;top:876.2px;width:169px;text-align:center">Personal expense</div>
<div class="cell" style="left:1312px;top:884.9px">N/A</div>
<div class="badge b-red" style="left:31.5px;top:943.4px;width:105px;text-align:center">Cancelled</div>
<svg style="left:224.5px;top:942.9px" width="33" height="33" viewBox="0 0 33 33"><circle cx="16.5" cy="16.5" r="15.8" fill="#fff" stroke="#dcdde0" stroke-width="1.4"/></svg>
<div class="abs" style="left:1469.3px;top:197px;width:7.5px;height:900px;border-radius:4px 4px 0 0;background:#d2d2d6"></div>
</div>
</div>
</body></html>
